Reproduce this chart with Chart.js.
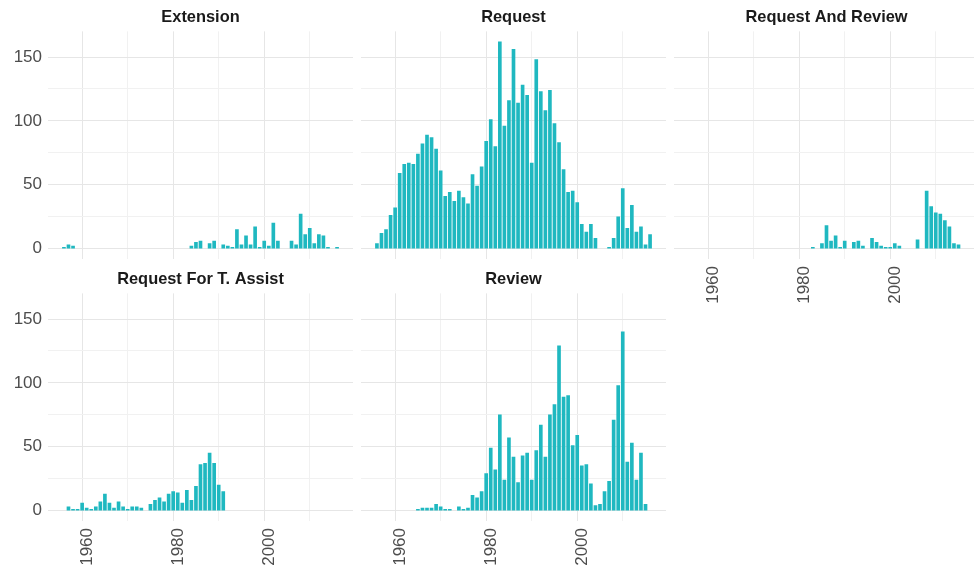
<!DOCTYPE html>
<html>
<head>
<meta charset="utf-8">
<script src="https://cdn.jsdelivr.net/npm/chart.js@4/dist/chart.umd.min.js"></script>
<style>
  html, body { margin: 0; padding: 0; background: #fff; overflow: hidden; }
  body { width: 974px; height: 569px; position: relative; }
  canvas { position: absolute; }
</style>
</head>
<body>
<canvas id="pExtension"></canvas>
<canvas id="pRequest"></canvas>
<canvas id="pRequestReview"></canvas>
<canvas id="pAssist"></canvas>
<canvas id="pReview"></canvas>
<script>
// Conteos por año para cada tipo de solicitud
const extensionYears = [1956, 1957, 1958, 1984, 1985, 1986, 1988, 1989, 1991, 1992, 1993, 1994, 1995, 1996, 1997, 1998, 1999, 2000, 2001, 2002, 2003, 2006, 2007, 2008, 2009, 2010, 2011, 2012, 2013, 2014, 2016];
const extensionCounts = [1, 3, 2, 2, 5, 6, 4, 6, 3, 2, 1, 15, 3, 10, 3, 17, 1, 6, 2, 20, 6, 6, 3, 27, 11, 16, 4, 11, 10, 1, 1];

const requestYears = [1956, 1957, 1958, 1959, 1960, 1961, 1962, 1963, 1964, 1965, 1966, 1967, 1968, 1969, 1970, 1971, 1972, 1973, 1974, 1975, 1976, 1977, 1978, 1979, 1980, 1981, 1982, 1983, 1984, 1985, 1986, 1987, 1988, 1989, 1990, 1991, 1992, 1993, 1994, 1995, 1996, 1997, 1998, 1999, 2000, 2001, 2002, 2003, 2004, 2007, 2008, 2009, 2010, 2011, 2012, 2013, 2014, 2015, 2016];
const requestCounts = [4, 12, 15, 26, 32, 59, 66, 67, 66, 74, 82, 89, 87, 78, 61, 41, 44, 37, 45, 40, 35, 58, 49, 64, 84, 101, 80, 162, 96, 116, 156, 114, 128, 120, 67, 148, 123, 108, 124, 98, 83, 62, 44, 45, 36, 19, 13, 19, 8, 1, 8, 25, 47, 16, 34, 13, 17, 3, 11];

const reqReviewYears = [1983, 1985, 1986, 1987, 1988, 1989, 1990, 1992, 1993, 1994, 1996, 1997, 1998, 1999, 2000, 2001, 2002, 2006, 2008, 2009, 2010, 2011, 2012, 2013, 2014, 2015];
const reqReviewCounts = [1, 4, 18, 6, 10, 1, 6, 5, 6, 2, 8, 5, 2, 1, 1, 4, 2, 7, 45, 33, 28, 27, 22, 17, 4, 3];

const assistYears = [1957, 1958, 1959, 1960, 1961, 1962, 1963, 1964, 1965, 1966, 1967, 1968, 1969, 1970, 1971, 1972, 1973, 1975, 1976, 1977, 1978, 1979, 1980, 1981, 1982, 1983, 1984, 1985, 1986, 1987, 1988, 1989, 1990, 1991];
const assistCounts = [3, 1, 1, 6, 2, 1, 3, 7, 13, 6, 2, 7, 3, 1, 3, 3, 2, 5, 8, 10, 7, 13, 15, 14, 6, 16, 8, 19, 36, 37, 45, 37, 20, 15];

const reviewYears = [1965, 1966, 1967, 1968, 1969, 1970, 1971, 1972, 1974, 1975, 1976, 1977, 1978, 1979, 1980, 1981, 1982, 1983, 1984, 1985, 1986, 1987, 1988, 1989, 1990, 1991, 1992, 1993, 1994, 1995, 1996, 1997, 1998, 1999, 2000, 2001, 2002, 2003, 2004, 2005, 2006, 2007, 2008, 2009, 2010, 2011, 2012, 2013, 2014, 2015];
const reviewCounts = [1, 2, 2, 2, 5, 3, 1, 1, 3, 1, 2, 12, 10, 15, 29, 49, 32, 75, 24, 57, 42, 22, 43, 45, 24, 47, 67, 42, 75, 83, 129, 89, 90, 51, 59, 35, 36, 21, 4, 5, 15, 23, 71, 98, 140, 38, 53, 24, 45, 5];

const xTicks = [1960, 1970, 1980, 1990, 2000, 2010];
const yTicks = [0, 25, 50, 75, 100, 125, 150];

const COLOR_BAR = '#1fb8c0';
const COLOR_TEXT = '#4d4d4d';
const FONT = "'Liberation Sans', Arial, sans-serif";

// geometría de la cuadrícula de paneles
const plotW = 305, plotH = 228, titleH = 30.9, yAxisW = 48, xAxisH = 44;
const colLeft = [0, 361, 674];
const rowTop = [0, 262];

// quitar el relleno que Chart.js reserva para las etiquetas de los extremos
function sinRelleno(s) {
    s.paddingTop = 0;
    s.paddingBottom = 0;
    s.paddingLeft = 0;
    s.paddingRight = 0;
}

function crearPanel(id, titulo, fila, col, anios, conteos, conEjeY, conEjeX) {
    const canvas = document.getElementById(id);
    const ancho = plotW + (conEjeY ? yAxisW : 0);
    const alto = Math.round(titleH + plotH + (conEjeX ? xAxisH : 0));
    canvas.width = ancho;
    canvas.height = alto;
    canvas.style.left = colLeft[col] + 'px';
    canvas.style.top = rowTop[fila] + 'px';

    const puntos = anios.map((a, i) => ({ x: a, y: conteos[i] }));

    return new Chart(canvas.getContext('2d'), {
        type: 'bar',
        data: {
            datasets: [{
                data: puntos,
                backgroundColor: COLOR_BAR,
                borderWidth: 0,
                barThickness: 3
            }]
        },
        options: {
            responsive: false,
            animation: false,
            layout: { padding: 0 },
            plugins: {
                legend: { display: false },
                tooltip: { enabled: false },
                title: {
                    display: true,
                    fullSize: false,
                    text: titulo,
                    color: '#1a1a1a',
                    font: { family: FONT, size: 16.4, weight: 'bold' },
                    padding: { top: 7.6, bottom: 4.1 }
                }
            },
            scales: {
                x: {
                    type: 'linear',
                    min: 1952.5,
                    max: 2019.5,
                    offset: false,
                    afterBuildTicks: s => { s.ticks = xTicks.map(v => ({ value: v })); },
                    afterFit: s => { s.height = conEjeX ? xAxisH : 0; sinRelleno(s); },
                    border: { display: false },
                    grid: {
                        offset: false,
                        drawTicks: false,
                        color: c => (c.tick && c.tick.value % 20 === 0) ? '#e6e6e6' : '#f1f1f1',
                        lineWidth: 1
                    },
                    ticks: {
                        display: conEjeX,
                        autoSkip: false,
                        minRotation: 90,
                        maxRotation: 90,
                        padding: 7,
                        labelOffset: 5,
                        color: COLOR_TEXT,
                        font: { family: FONT, size: 17 },
                        callback: v => (v % 20 === 0 ? String(v) : '')
                    }
                },
                y: {
                    min: -8.1,
                    max: 170.1,
                    afterBuildTicks: s => { s.ticks = yTicks.map(v => ({ value: v })); },
                    afterFit: s => { s.width = conEjeY ? yAxisW : 0; sinRelleno(s); },
                    border: { display: false },
                    grid: {
                        drawTicks: false,
                        color: c => (c.tick && c.tick.value % 50 === 0) ? '#e6e6e6' : '#f1f1f1',
                        lineWidth: 1
                    },
                    ticks: {
                        display: conEjeY,
                        padding: 6,
                        color: COLOR_TEXT,
                        font: { family: FONT, size: 17 },
                        callback: v => (v % 50 === 0 ? String(v) : '')
                    }
                }
            }
        }
    });
}

crearPanel('pExtension', 'Extension', 0, 0, extensionYears, extensionCounts, true, false);
crearPanel('pRequest', 'Request', 0, 1, requestYears, requestCounts, false, false);
crearPanel('pRequestReview', 'Request And Review', 0, 2, reqReviewYears, reqReviewCounts, false, true);
crearPanel('pAssist', 'Request For T. Assist', 1, 0, assistYears, assistCounts, true, true);
crearPanel('pReview', 'Review', 1, 1, reviewYears, reviewCounts, false, true);
</script>
</body>
</html>
